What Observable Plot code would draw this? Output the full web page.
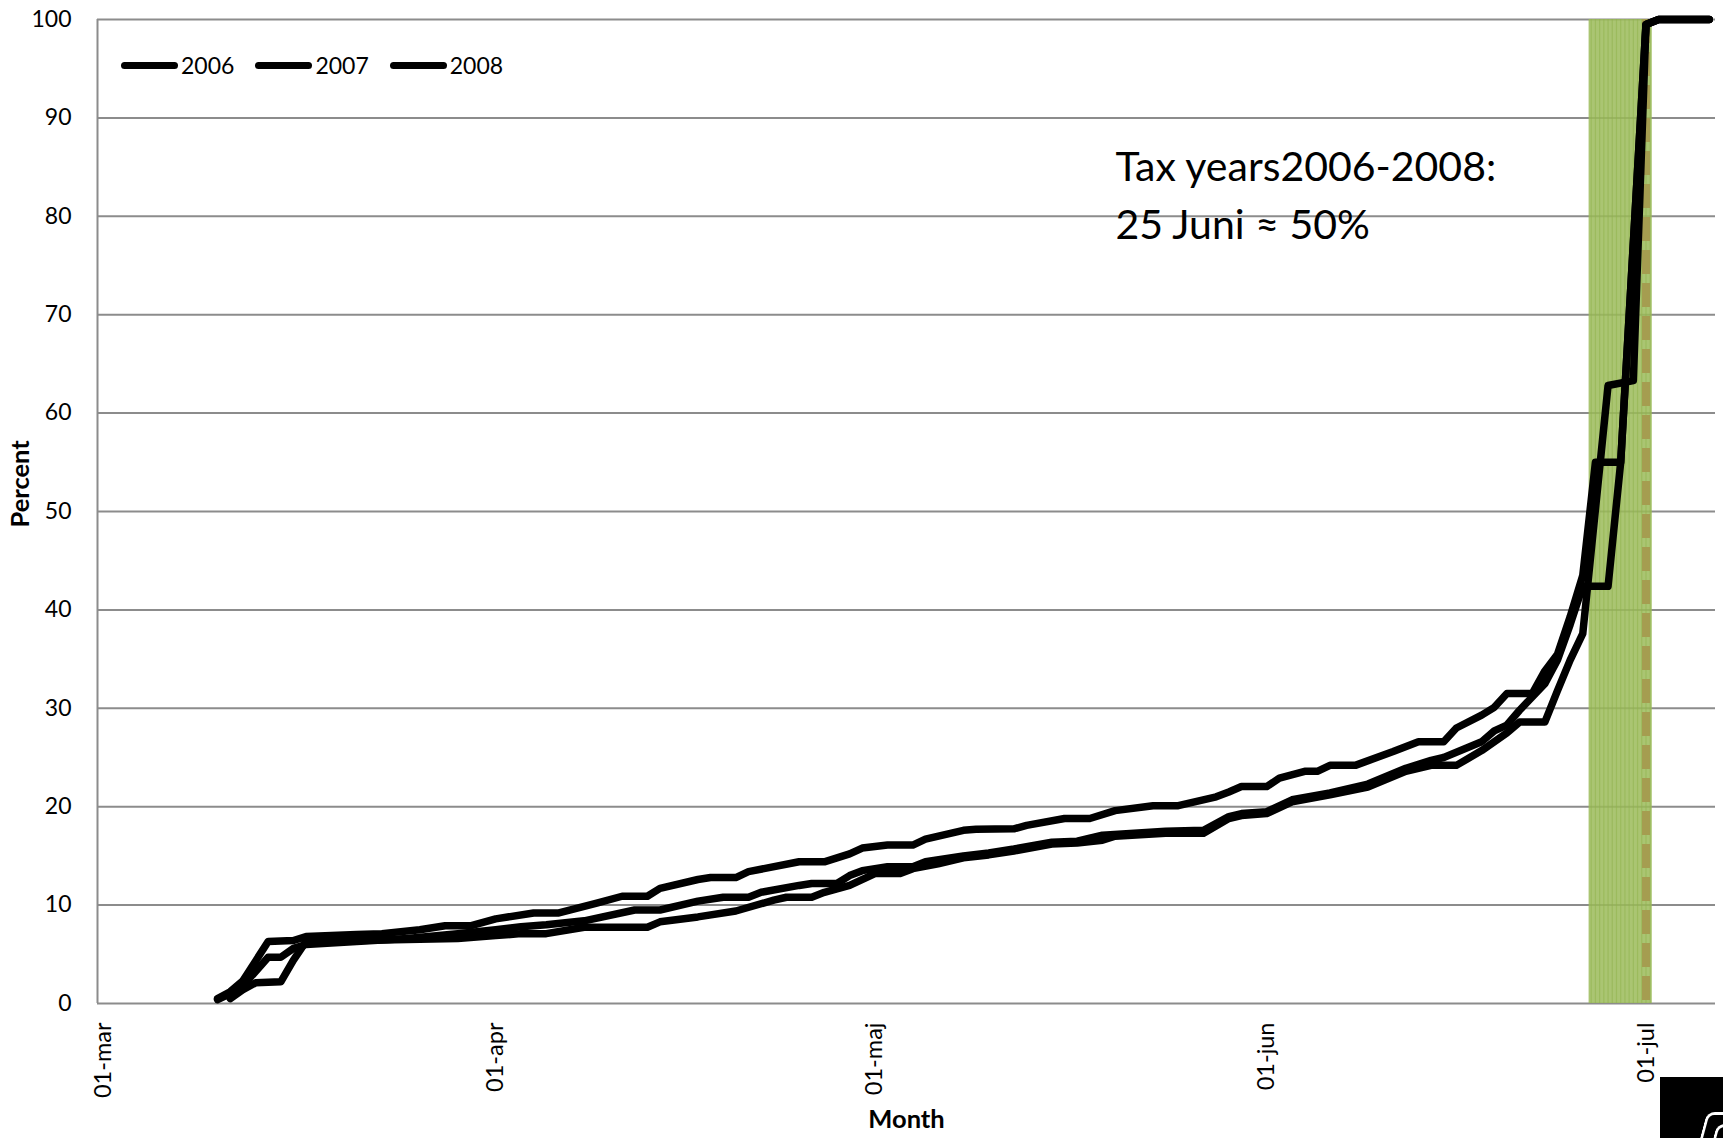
<!DOCTYPE html>
<html>
<head>
<meta charset="utf-8">
<script src="https://cdn.jsdelivr.net/npm/d3@7"></script>
<script src="https://cdn.jsdelivr.net/npm/@observablehq/plot@0.6"></script>
<style>
  html, body { margin: 0; padding: 0; background: #fff; }
  #wrap { position: relative; width: 1723px; height: 1138px; font-family: Lato, "Open Sans", sans-serif; }
  #chart svg { display: block; }
  #legend { position: absolute; left: 121px; top: 52px; display: flex; align-items: center; font-size: 23px; line-height: 26px; color: #000; }
  .item { display: flex; align-items: center; margin-right: 21px; }
  .sw { display: inline-block; width: 57px; height: 7px; background: #000; border-radius: 4px; margin-right: 3px; }
  #logo { position: absolute; left: 1660px; top: 1077px; width: 63px; height: 61px; background: #000; overflow: hidden; }
  #logo .o { position: absolute; width: 40px; height: 40px; border-left: 3px solid #fff; border-top: 3px solid #fff; border-top-left-radius: 8px; transform: skewX(-15deg); transform-origin: top left; }
</style>
</head>
<body>
<div id="wrap">
  <div id="chart"></div>
  <div id="legend"></div>
  <div id="logo"><div class="o" style="left:47px;top:35px"></div><div class="o" style="left:57px;top:47px"></div></div>
</div>
<script>
// ---------- data ----------
const seasonYear = 2007; // reference calendar for day-of-season
const xFirst = "03-01";
const xLast = "07-06";
const monthTicks = ["03-01", "04-01", "05-01", "06-01", "07-01"];
const monthLabels = ["01-mar", "01-apr", "01-maj", "01-jun", "01-jul"];
const yTicks = [0, 10, 20, 30, 40, 50, 60, 70, 80, 90, 100];
const seriesNames = ["2006", "2007", "2008"];

const dates2006 = ["03-10","03-11","03-12","03-14","03-15","03-16","03-17","03-21","03-25","03-29","04-01","04-03","04-05","04-08","04-12","04-14","04-17","04-19","04-21","04-22","04-25","04-26","04-28","04-29","04-30","05-02","05-04","05-05","05-08","05-10","05-12","05-15","05-17","05-19","05-24","05-27","05-29","05-30","06-01","06-03","06-06","06-09","06-12","06-14","06-15","06-18","06-19","06-20","06-21","06-23","06-24","06-25","06-26","06-28","06-29","07-01","07-02","07-06"];
const pct2006 = [0.4,1.0,1.8,4.7,4.7,5.6,6.0,6.3,6.6,7.1,7.5,7.8,8.0,8.4,9.5,9.5,10.4,10.8,10.8,11.3,12.0,12.2,12.2,13.0,13.5,13.9,13.9,14.4,15.0,15.3,15.7,16.4,16.5,17.1,17.5,17.6,19.0,19.3,19.5,20.7,21.4,22.3,23.9,24.7,25.0,26.6,27.7,28.3,29.8,32.5,34.9,38.5,42.4,42.4,55.0,99.5,100,100];

const dates2007 = ["03-11","03-12","03-13","03-15","03-16","03-17","03-21","03-25","03-29","04-01","04-03","04-05","04-08","04-13","04-14","04-17","04-20","04-23","04-24","04-26","04-27","04-29","05-01","05-03","05-04","05-06","05-08","05-10","05-12","05-15","05-17","05-19","05-20","05-24","05-27","05-29","05-30","06-01","06-03","06-06","06-09","06-12","06-14","06-16","06-18","06-20","06-21","06-23","06-24","06-25","06-26","06-28","06-30","07-01","07-02","07-06"];
const pct2007 = [0.5,1.4,2.1,2.2,4.4,6.3,6.4,6.5,6.6,6.9,7.1,7.1,7.75,7.75,8.3,8.8,9.4,10.5,10.8,10.8,11.3,12.0,13.2,13.2,13.7,14.2,14.8,15.1,15.5,16.2,16.3,16.6,17.0,17.3,17.3,18.8,19.1,19.3,20.5,21.2,22.0,23.6,24.2,24.2,25.7,27.5,28.6,28.6,31.8,34.9,37.6,62.8,63.3,99.5,100,100];

const dates2008 = ["03-10","03-11","03-12","03-13","03-14","03-16","03-17","03-21","03-23","03-26","03-28","03-30","04-01","04-04","04-06","04-09","04-11","04-13","04-14","04-17","04-18","04-20","04-21","04-25","04-27","04-29","04-30","05-02","05-04","05-05","05-08","05-09","05-12","05-13","05-16","05-18","05-20","05-23","05-25","05-28","05-29","05-30","06-01","06-02","06-04","06-05","06-06","06-08","06-11","06-13","06-15","06-16","06-18","06-19","06-20","06-22","06-23","06-24","06-25","06-26","06-27","06-29","07-01","07-02","07-06"];
const pct2008 = [0.5,1.2,2.3,4.3,6.3,6.4,6.8,7.0,7.1,7.5,7.9,7.9,8.6,9.2,9.2,10.2,10.9,10.9,11.7,12.6,12.8,12.8,13.4,14.4,14.4,15.2,15.8,16.1,16.1,16.7,17.6,17.7,17.75,18.1,18.8,18.8,19.6,20.1,20.1,21.0,21.5,22.05,22.05,22.9,23.6,23.6,24.2,24.2,25.6,26.6,26.6,28.0,29.3,30.1,31.5,31.5,33.8,35.5,39.3,43.5,55.0,55.0,99.5,100,100];

const bandFirst = "06-27";   // shaded days
const bandLast = "07-01";
const deadline = "07-01";    // dashed marker
const noteLines = ["Tax years2006-2008:", "25 Juni \u2248 50%"];
const xTitle = "Month";
const yTitle = "Percent";

// ---------- build ----------
const DAY = 24 * 3600 * 1000;
const toDate = s => new Date(`${seasonYear}-${s}T00:00:00Z`);
const xDomain = [new Date(+toDate(xFirst) - DAY / 2), new Date(+toDate(xLast) + DAY / 2)];
const tickDates = monthTicks.map(toDate);

const series = [
  {year: seriesNames[0], dates: dates2006, pct: pct2006},
  {year: seriesNames[1], dates: dates2007, pct: pct2007},
  {year: seriesNames[2], dates: dates2008, pct: pct2008}
];
const rows = series.flatMap(s => s.dates.map((d, i) => ({year: s.year, date: toDate(d), pct: s.pct[i]})));

const band = [{x1: new Date(+toDate(bandFirst) - DAY / 2), x2: new Date(+toDate(bandLast) + DAY / 2)}];
const stripes = d3.utcHour.every(8).range(band[0].x1, band[0].x2);

const gray = "#8c8c8c";
const chart = Plot.plot({
  width: 1723,
  height: 1138,
  marginTop: 19,
  marginBottom: 135,
  marginLeft: 97,
  marginRight: 8,
  style: {fontFamily: "Lato, 'Open Sans', sans-serif", fontSize: "23px", color: "#000", background: "#fff"},
  x: {type: "utc", domain: xDomain},
  y: {domain: [0, 100]},
  marks: [
    Plot.ruleY(yTicks, {stroke: gray, strokeWidth: 2}),
    Plot.ruleX([xDomain[0]], {stroke: gray, strokeWidth: 2}),
    Plot.rect(band, {x1: "x1", x2: "x2", fill: "#9bbb59", fillOpacity: 0.85}),
    Plot.ruleX(stripes, {stroke: "#8fb24c", strokeOpacity: 0.55, strokeWidth: 1.2}),
    Plot.ruleX([toDate(deadline)], {stroke: "#a59d50", strokeWidth: 8, strokeDasharray: "24,9"}),
    Plot.line(rows, {x: "date", y: "pct", z: "year", stroke: "#000", strokeWidth: 7.5, strokeLinejoin: "round", strokeLinecap: "round"}),
    Plot.axisX({ticks: tickDates, tickFormat: d => monthLabels[tickDates.findIndex(t => +t === +d)], tickRotate: -90, tickSize: 0, tickPadding: 19, fontSize: 23.5, label: null}),
    Plot.axisY({ticks: yTicks, tickSize: 0, tickPadding: 26, fontSize: 23, label: null}),
    Plot.text([yTitle], {frameAnchor: "left", dx: -77, dy: 16, rotate: -90, fontWeight: "bold", fontSize: 25.5}),
    Plot.text([xTitle], {frameAnchor: "bottom", dy: 124, fontWeight: "bold", fontSize: 25.5}),
    Plot.text([noteLines.join("\n")], {frameAnchor: "top-left", dx: 1018, dy: 120, textAnchor: "start", lineAnchor: "top", fontSize: 41, lineHeight: 1.42})
  ]
});
document.getElementById("chart").appendChild(chart);

// legend (inside plot area, HTML overlay)
const legend = d3.select("#legend");
seriesNames.forEach(name => {
  const item = legend.append("div").attr("class", "item");
  item.append("span").attr("class", "sw");
  item.append("span").text(name);
});
</script>
</body>
</html>
